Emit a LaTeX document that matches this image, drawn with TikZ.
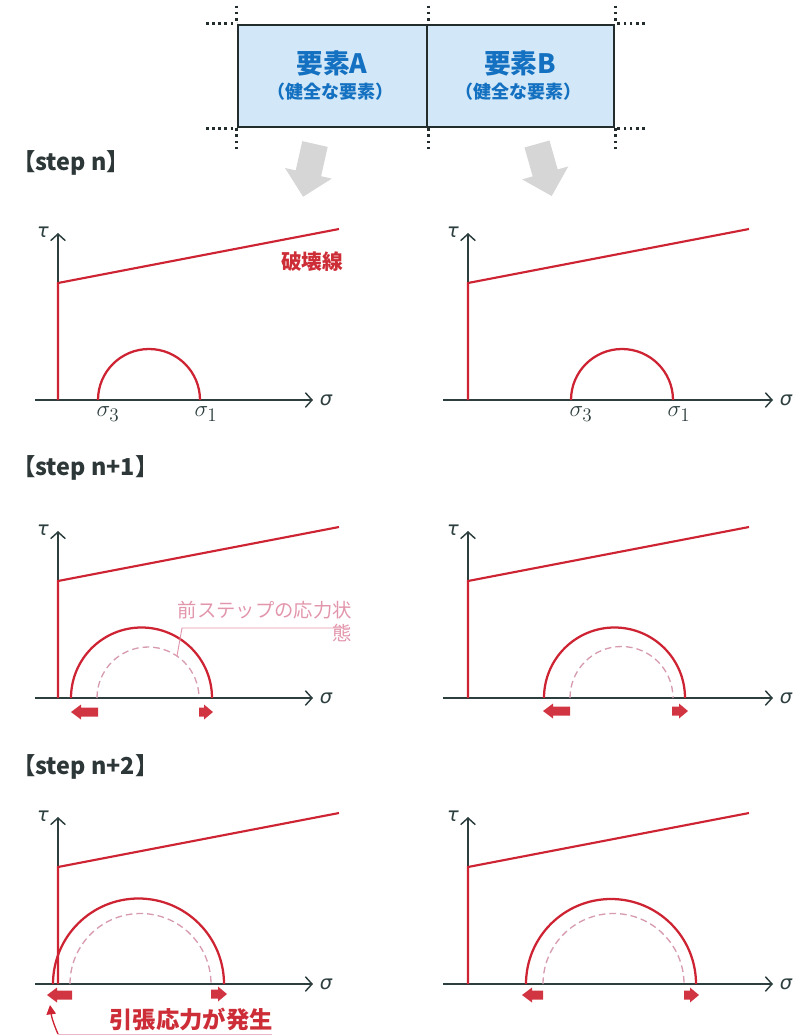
\documentclass[tikz,border=0pt]{standalone}
\usepackage{fontspec}
\newfontfamily\jp{Noto Sans CJK JP}
\newfontfamily\gk{DejaVu Sans}
\usetikzlibrary{arrows.meta}
\definecolor{axisc}{RGB}{45,62,62}
\definecolor{redl}{RGB}{205,35,50}
\definecolor{redt}{RGB}{205,45,55}
\definecolor{pinkd}{RGB}{215,155,175}
\definecolor{pinkt}{RGB}{226,150,172}
\definecolor{boxfill}{RGB}{210,232,248}
\definecolor{boxtext}{RGB}{20,112,192}
\definecolor{grayarr}{RGB}{214,214,214}
\definecolor{steptext}{RGB}{45,55,55}
\definecolor{boxline}{RGB}{35,45,45}
\tikzset{
  axisline/.style={draw=axisc,line width=1.1pt,-{Straight Barb[length=5pt,width=11pt,line width=1.1pt]}},
  failline/.style={draw=redl,line width=1.6pt},
  solidcirc/.style={draw=redl,line width=1.7pt},
  dashcirc/.style={draw=pinkd,line width=1pt,dash pattern=on 5pt off 3pt},
  blockarr/.style={fill=redl!92!white},
  graybig/.style={fill=grayarr},
  steplabel/.style={font=\jp\bfseries\fontsize{17.5}{19}\selectfont,text=steptext,anchor=west,inner sep=0pt},
  axlbl/.style={font=\gk\itshape\fontsize{14.5}{15}\selectfont,text=axisc,inner sep=0pt},
  sublbl/.style={font=\fontsize{19}{19}\selectfont,text=axisc,inner sep=0pt},
  elembox/.style={draw=boxline,line width=2pt,fill=boxfill,inner sep=0pt},
  boxmain/.style={font=\jp\bfseries\fontsize{20}{22}\selectfont,text=boxtext,inner sep=0pt},
  boxsub/.style={font=\jp\bfseries\fontsize{13.5}{15}\selectfont,text=boxtext,inner sep=0pt},
  dotline/.style={draw=boxline,line width=2pt,dash pattern=on 2pt off 2.6pt},
  redlabel/.style={font=\jp\bfseries\fontsize{15.5}{17}\selectfont,text=redt,inner sep=0pt},
  pinklabel/.style={font=\jp\fontsize{14.5}{17}\selectfont,text=pinkt,inner sep=0pt},
  bigred/.style={font=\jp\bfseries\fontsize{17.5}{19}\selectfont,text=redt,inner sep=0pt},
}
% #1 name, #2 axis x, #3 axis y, #4 sigma-axis start x, #5 sigma-axis end x
\newcommand\mohrpanel[5]{%
  \coordinate (#1o) at (#2,#3);
  \coordinate (#1s0) at (#4,#3);
  \coordinate (#1s1) at (#5,#3);
  \coordinate (#1t1) at (#2,#3-167);
  \coordinate (#1f0) at (#2,#3-117);
  \coordinate (#1f1) at (#2+281,#3-171);
  \draw[axisline] (#1s0) -- (#1s1);
  \draw[axisline] (#1o) -- (#1t1);
  \draw[failline] (#1o) -- (#1f0) -- (#1f1);
  \node[axlbl,anchor=west] (#1sl) at ([xshift=5pt]#1s1) {σ};
  \node[axlbl] (#1tl) at (#2-15,#3-168) {τ};
}
% semicircle: #1 style, #2 centre x, #3 axis y, #4 radius
\newcommand\semic[4]{%
  \draw[#1] (#2-#4,#3) arc[start angle=180,delta angle=180,radius=#4];
}
% block arrow pointing left: #1 tip x, #2 tail x, #3 y
\newcommand\barrowleft[3]{%
  \fill[blockarr] (#1,#3) -- (#1+10,#3-7.5) -- (#1+10,#3-4.5) -- (#2,#3-4.5) -- (#2,#3+4.5)
    -- (#1+10,#3+4.5) -- (#1+10,#3+7.5) -- cycle;
}
% block arrow pointing right: #1 tail x, #2 tip x, #3 y
\newcommand\barrowright[3]{%
  \fill[blockarr] (#2,#3) -- (#2-9,#3-7.5) -- (#2-9,#3-4.5) -- (#1,#3-4.5) -- (#1,#3+4.5)
    -- (#2-9,#3+4.5) -- (#2-9,#3+7.5) -- cycle;
}
\begin{document}
\begin{tikzpicture}[x=0.75pt,y=-0.75pt]
\useasboundingbox (0,0) rectangle (797,1036);

% ---- element boxes ----
\node[elembox,minimum width=141.75pt,minimum height=76.5pt] (boxA) at (332.5,76) {};
\node[elembox,minimum width=140.25pt,minimum height=76.5pt] (boxB) at (520.5,76) {};
\node[boxmain] (boxAt) at (332,63) {要素A};
\node[boxsub]  (boxAs) at (330,92) {（健全な要素）};
\node[boxmain] (boxBt) at (520,63) {要素B};
\node[boxsub]  (boxBs) at (518,92) {（健全な要素）};

\draw[dotline] ([yshift=13.5pt]boxA.north west) -- (boxA.north west);
\draw[dotline] ([yshift=13.5pt]boxA.north east) -- (boxA.north east);
\draw[dotline] ([yshift=13.5pt]boxB.north east) -- (boxB.north east);
\draw[dotline] ([yshift=-15.75pt]boxA.south west) -- (boxA.south west);
\draw[dotline] ([yshift=-15.75pt]boxA.south east) -- (boxA.south east);
\draw[dotline] ([yshift=-15.75pt]boxB.south east) -- (boxB.south east);
\draw[dotline] ([xshift=-23pt]boxA.north west) -- (boxA.north west);
\draw[dotline] ([xshift=-23pt]boxA.south west) -- (boxA.south west);
\draw[dotline] ([xshift=22pt]boxB.north east) -- (boxB.north east);
\draw[dotline] ([xshift=22pt]boxB.south east) -- (boxB.south east);

% ---- grey arrows ----
\fill[graybig] (302.3,141.1) -- (327.7,146.9) -- (321.1,176.2) -- (331.8,178.6)
  -- (303.1,196.7) -- (285,168) -- (295.7,170.4) -- cycle;
\fill[graybig] (524.5,147.5) -- (549.5,140.5) -- (557.7,169.4) -- (568.3,166.4)
  -- (551.7,196) -- (522.1,179.4) -- (532.7,176.4) -- cycle;

% ---- step labels ----
\node[steplabel] (st1) at (12,163) {【step n】};
\node[steplabel] (st2) at (12,468) {【step n+1】};
\node[steplabel] (st3) at (12,767) {【step n+2】};

% ---- step n ----
\mohrpanel{pa}{58}{400}{35}{313}
\mohrpanel{pb}{468}{400}{443}{773}
\semic{solidcirc}{149}{400}{51}
\semic{solidcirc}{622}{400}{51}
\node[sublbl] (pas3) at (108,414) {$\sigma_3$};
\node[sublbl] (pas1) at (206,414) {$\sigma_1$};
\node[sublbl] (pbs3) at (581,414) {$\sigma_3$};
\node[sublbl] (pbs1) at (679,414) {$\sigma_1$};
\node[redlabel] (fail) at (312,262) {破壊線};

% ---- step n+1 ----
\mohrpanel{qa}{58}{698}{35}{313}
\mohrpanel{qb}{468}{698}{443}{773}
\semic{dashcirc}{148}{698}{51}
\semic{solidcirc}{141.5}{698}{70.5}
\semic{dashcirc}{621.5}{698}{51.5}
\semic{solidcirc}{614.5}{698}{70.5}
\barrowleft{71}{98}{712}
\barrowright{199}{213}{712}
\barrowleft{543}{570}{711}
\barrowright{672}{688}{711}
\node[pinklabel,align=right,anchor=north east] (prev) at (352,601) {前ステップの応力状\\態};
\coordinate (prevA) at (348,628);
\coordinate (prevB) at (182,628);
\coordinate (prevC) at (177,656);
\draw[pinkt,line width=0.7pt] (prevA) -- (prevB) -- (prevC);

% ---- step n+2 ----
\mohrpanel{ra}{58}{984}{35}{313}
\mohrpanel{rb}{468}{984}{443}{773}
\semic{dashcirc}{140.5}{984}{70.5}
\semic{solidcirc}{138.5}{984}{85.5}
\semic{dashcirc}{613.5}{984}{70.5}
\semic{solidcirc}{611}{984}{85}
\barrowleft{47}{72}{995}
\barrowright{211}{227}{994}
\barrowleft{522}{543}{995}
\barrowright{684}{699}{995}
\node[bigred] (tens) at (191,1019) {引張応力が発生};
\coordinate (tensA) at (272,1034);
\coordinate (tensB) at (58,1034);
\coordinate (tensC) at (50,1005);
\draw[pinkt!70!white,line width=0.7pt] (tensA) -- (tensB);
\draw[redl,line width=1pt,-{Triangle[length=7pt,width=7pt]}] (tensB) to[bend left=8] (tensC);
\end{tikzpicture}
\end{document}
